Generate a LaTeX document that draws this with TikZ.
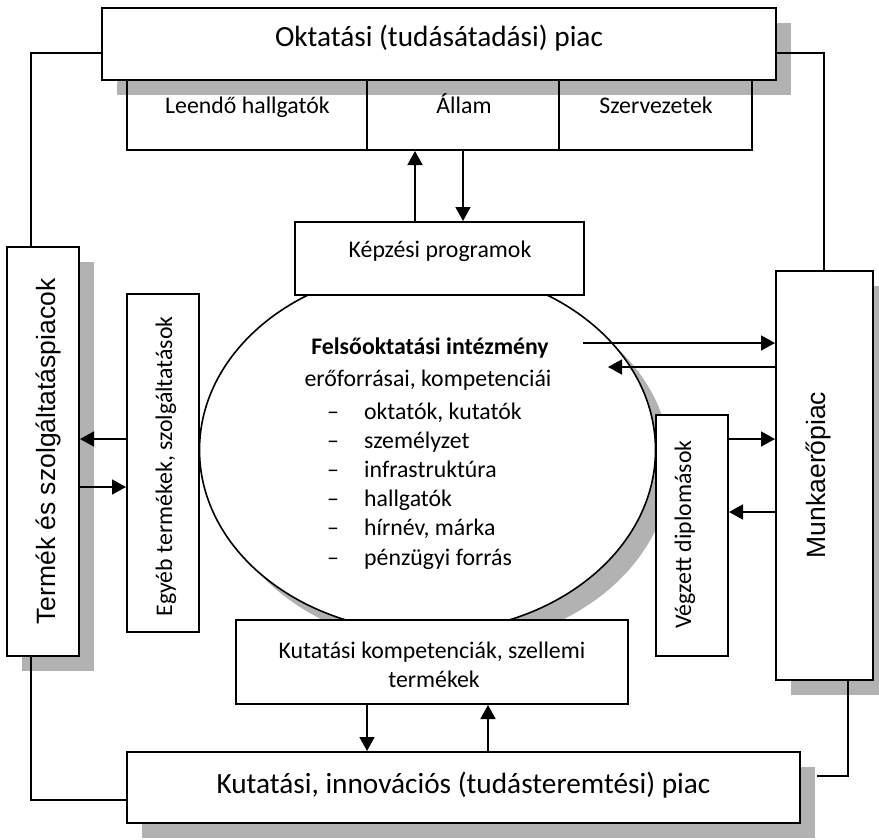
\documentclass[tikz,border=0pt]{standalone}
\usepackage{fontspec}
\setmainfont{Carlito}
\newfontfamily\arialbetu{Liberation Sans}
\usetikzlibrary{arrows.meta,calc,shadows,shapes.geometric}

\tikzset{
	doboz/.style={draw, line width=2pt, fill=white, inner sep=0pt},
	arnyekos/.style={drop shadow={shadow xshift=15pt, shadow yshift=-15pt, fill=black!30, opacity=1}},
	vonal/.style={line width=1.7pt},
	nyil/.style={line width=1.7pt, -{Triangle[length=14pt,width=15pt]}},
	szoveg/.style={anchor=base, inner sep=0pt, font=\fontsize{23.8}{28}\selectfont},
	nagy/.style={anchor=base, inner sep=0pt, font=\fontsize{29.3}{34}\selectfont},
	fuggo/.style={anchor=base, inner sep=0pt, rotate=90, font=\arialbetu\fontsize{26.5}{30}\selectfont},
	fuggokicsi/.style={szoveg, rotate=90},
}

\begin{document}
\begin{tikzpicture}[x=1pt, y=-1pt]
		%%%%% START %%%%%
		\useasboundingbox (0,0) rectangle (879,839);
		
		% intezmeny
		\node[ellipse, draw, line width=1.6pt, fill=white, arnyekos, minimum width=456pt, minimum height=364pt, inner sep=0pt] (intezmeny) at (427.5,450) {};
		\node[szoveg, font=\bfseries\fontsize{23.8}{28}\selectfont] (cim) at (430,354) {Felsőoktatási intézmény};
		\node[szoveg] (alcim) at (428,386) {erőforrásai, kompetenciái};
		\foreach \elem [count=\i] in {{oktatók, kutatók}, személyzet, infrastruktúra, hallgatók, {hírnév, márka}, pénzügyi forrás} {
			\node[szoveg] (kot-\i) at (333,{419+29.2*(\i-1)}) {--};
			\node[szoveg, anchor=base west] (elem-\i) at (364,{419+29.2*(\i-1)}) {\elem};
		}
		\coordinate (kimenet) at (583,343);
		\coordinate (bemenet) at (608,367);
		
		% oktatasi piac
		\node[doboz, arnyekos, minimum width=674pt, minimum height=72pt] (okt) at (439,44) {};
		\node[nagy] (okt-t) at (439,46.5) {Oktatási (tudásátadási) piac};
		\node[draw, line width=2pt, minimum width=240pt, minimum height=70pt] (leendo) at (247,115) {};
		\node[draw, line width=2pt, minimum width=192pt, minimum height=70pt] (allam) at (463,115) {};
		\node[draw, line width=2pt, minimum width=193pt, minimum height=70pt] (szerv) at (655.5,115) {};
		\node[szoveg] (leendo-t) at (247.5,113) {Leendő hallgatók};
		\node[szoveg] (allam-t) at (464,113) {Állam};
		\node[szoveg] (szerv-t) at (656,113) {Szervezetek};
		
		\node[doboz, minimum width=289pt, minimum height=73pt] (kepzes) at (439.5,258.5) {};
		\node[szoveg] (kepzes-t) at (440,257) {Képzési programok};
		
		% oldalso dobozok
		\node[doboz, arnyekos, minimum width=72pt, minimum height=409pt] (termek) at (43,451.5) {};
		\node[fuggo] (termek-t) at (56,451.5) {Termék és szolgáltatáspiacok};
		\node[doboz, minimum width=72pt, minimum height=338pt] (egyeb) at (163,463) {};
		\node[fuggokicsi] (egyeb-t) at (172,466.5) {Egyéb termékek, szolgáltatások};
		
		\node[doboz, arnyekos, minimum width=97pt, minimum height=409pt] (munka) at (824.5,475.5) {};
		\node[fuggo] (munka-t) at (825,475) {Munkaerőpiac};
		\node[doboz, minimum width=72pt, minimum height=241pt] (vegzett) at (692,535.5) {};
		\node[fuggokicsi] (vegzett-t) at (691,534.5) {Végzett diplomások};
		
		% kutatasi piac
		\node[doboz, minimum width=392pt, minimum height=84pt] (kutkomp) at (432,662) {};
		\node[szoveg] (kutkomp-t1) at (432,658) {Kutatási kompetenciák, szellemi};
		\node[szoveg] (kutkomp-t2) at (434,687) {termékek};
		\node[doboz, arnyekos, minimum width=673pt, minimum height=71pt] (kutpiac) at (463.5,787.5) {};
		\node[nagy] (kutpiac-t) at (463.5,793) {Kutatási, innovációs (tudásteremtési) piac};
		
		% korbe futo vonalak
		\draw[vonal] (okt.west |- 0,53) -| (termek.north -| 31,0);
		\draw[vonal] (okt.east |- 0,53) -| (munka.north -| 824,0);
		\draw[vonal] (termek.south -| 31,0) |- (kutpiac.west |- 0,800);
		\draw[vonal] (munka.south -| 848,0) |- ($(kutpiac.east |- 0,776)+(16,0)$);
		
		% nyilak
		\draw[nyil] (kepzes.north -| 415,0) -- (allam.south -| 415,0);
		\draw[nyil] (allam.south -| 463,0) -- (kepzes.north -| 463,0);
		\draw[nyil] (kimenet) -- (munka.west |- kimenet);
		\draw[nyil] (munka.west |- bemenet) -- (bemenet);
		\draw[nyil] (vegzett.east |- 0,439) -- (munka.west |- 0,439);
		\draw[nyil] (munka.west |- 0,512) -- (vegzett.east |- 0,512);
		\draw[nyil] (egyeb.west |- 0,439) -- (termek.east |- 0,439);
		\draw[nyil] (termek.east |- 0,487) -- (egyeb.west |- 0,487);
		\draw[nyil] (kutkomp.south -| 367,0) -- (kutpiac.north -| 367,0);
		\draw[nyil] (kutpiac.north -| 488,0) -- (kutkomp.south -| 488,0);
		
		%%%%% END %%%%%
\end{tikzpicture}
\end{document}
